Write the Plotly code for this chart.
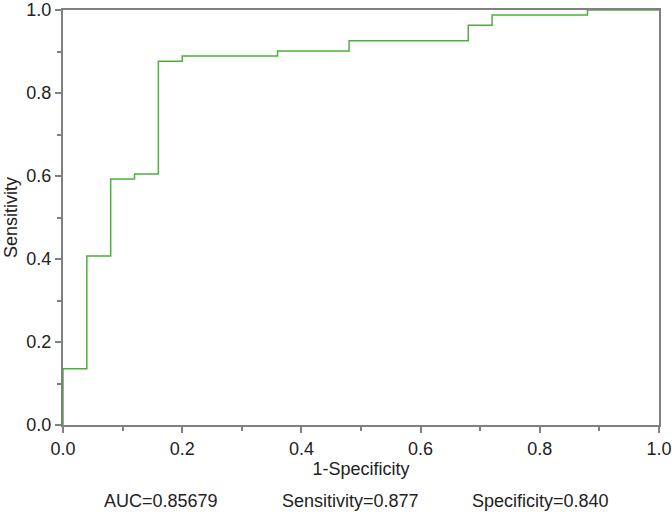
import plotly.graph_objects as go

# ROC curve: 25 negatives, 81 positives (step coords)
fpr = [0.0, 0.0, 0.04, 0.08, 0.12, 0.16, 0.20, 0.36, 0.48, 0.68, 0.72, 0.88, 1.0]
tpr = [0.0, 0.1358, 0.4074, 0.5926, 0.6049, 0.8765, 0.8889, 0.9012, 0.9259, 0.9630, 0.9877, 1.0, 1.0]

footer_texts = ["AUC=0.85679", "Sensitivity=0.877", "Specificity=0.840"]
footer_x = [0.165, 0.483, 0.802]  # paper fractions of the plot width

grey = "rgb(128,128,128)"
font = dict(family="Liberation Sans, Arial, sans-serif", size=18, color="#222")

fig = go.Figure()
fig.add_trace(go.Scatter(x=fpr, y=tpr, mode="lines", line=dict(color="rgb(76,175,60)", width=1.5, shape="hv"),
                         showlegend=False, hoverinfo="x+y"))

axis_common = dict(range=[0, 1], dtick=0.2, tickformat=".1f", showgrid=False, zeroline=False,
                   showline=True, linecolor=grey, linewidth=2, mirror=True, automargin=False,
                   ticks="outside", ticklen=6, tickwidth=1.5, tickcolor=grey,
                   minor=dict(dtick=0.1, ticks="outside", ticklen=4, tickcolor=grey, tickwidth=1.5),
                   tickfont=font)

fig.update_xaxes(**axis_common, title=dict(text="1-Specificity", font=font, standoff=1))
fig.update_yaxes(**axis_common, title=dict(text="Sensitivity", font=font, standoff=4))

for txt, xp in zip(footer_texts, footer_x):
    fig.add_annotation(text=txt, xref="paper", yref="paper", x=xp, y=-0.183,
                       xanchor="center", yanchor="middle", showarrow=False, font=font)

fig.update_layout(width=672, height=512, margin=dict(l=63, r=13, t=10, b=87),
                  plot_bgcolor="white", paper_bgcolor="white", font=font)

# drop the default body margin so the figure sits at the window's corner
fig.write_html("out.html", config={"displayModeBar": False},
               post_script="document.body.style.margin='0';")
